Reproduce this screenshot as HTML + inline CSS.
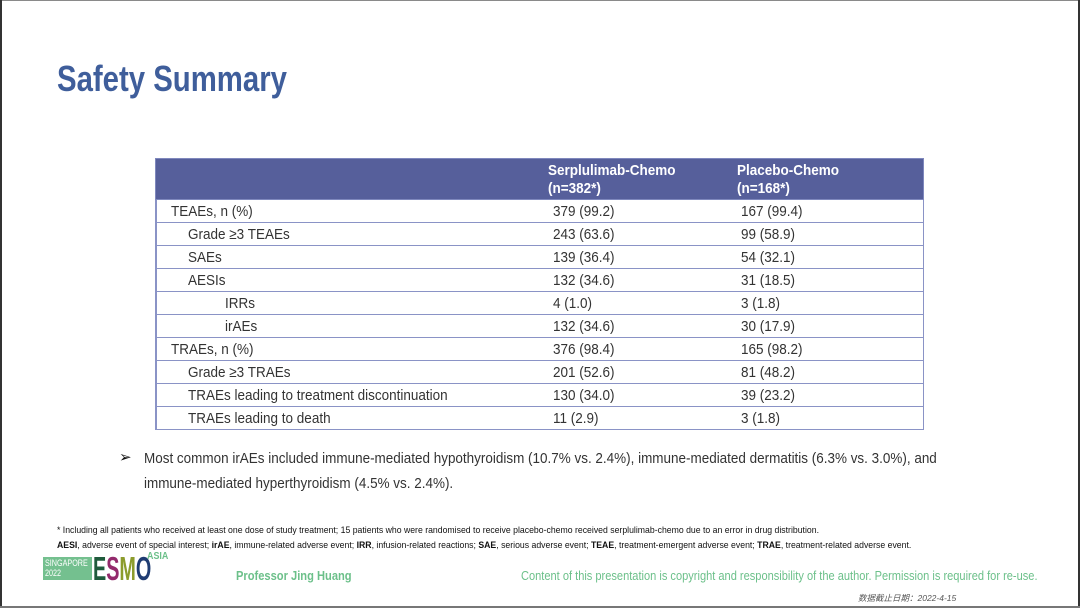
<!DOCTYPE html>
<html><head><meta charset="utf-8">
<style>
*{margin:0;padding:0;box-sizing:border-box}
html,body{width:1080px;height:608px;overflow:hidden;background:#fff}
body{position:relative;font-family:"Liberation Sans",Arial,"Noto Sans CJK SC",sans-serif;color:#333}
.a{position:absolute;white-space:nowrap}
.c{display:inline-block;transform-origin:0 0;white-space:nowrap}
.row{position:absolute;left:155px;width:769px;height:23px;border-bottom:1.5px solid #8a93c6}
.row .t{position:absolute;top:0;line-height:23px;font-size:15px;color:#333}
.row .t span{transform:scaleX(.9)}
</style></head><body>
<!-- frame -->
<div class="a" style="left:0;top:0;width:1080px;height:1px;background:#8a8a8a"></div>
<div class="a" style="left:0;top:0;width:2px;height:608px;background:#333"></div>
<div class="a" style="right:0;top:0;width:2px;height:608px;background:#333"></div>
<div class="a" style="left:0;bottom:0;width:1080px;height:2px;background:#777"></div>

<!-- title -->
<div class="a" style="left:57px;top:61px;font-size:36px;line-height:36px;font-weight:bold;color:#3f5e9b"><span class="c" style="transform:scaleX(.815)">Safety Summary</span></div>

<!-- table header -->
<div class="a" style="left:155px;top:158px;width:769px;height:42px;background:#565f9b;border:1px solid #7f88bd"></div>
<div class="a" style="left:548px;top:162px;font-size:15px;line-height:18px;font-weight:bold;color:#fff"><span class="c" style="transform:scaleX(.9)">Serplulimab-Chemo<br>(n=382*)</span></div>
<div class="a" style="left:737px;top:162px;font-size:15px;line-height:18px;font-weight:bold;color:#fff"><span class="c" style="transform:scaleX(.9)">Placebo-Chemo<br>(n=168*)</span></div>

<!-- table body borders -->
<div class="a" style="left:155px;top:200px;width:1.5px;height:230px;background:#8a93c6"></div>
<div class="a" style="left:922.5px;top:200px;width:1.5px;height:230px;background:#8a93c6"></div>

<div class="row" style="top:200px"><div class="t" style="left:16px"><span class="c">TEAEs, n (%)</span></div><div class="t" style="left:398px"><span class="c">379 (99.2)</span></div><div class="t" style="left:586px"><span class="c">167 (99.4)</span></div></div>
<div class="row" style="top:223px"><div class="t" style="left:33px"><span class="c">Grade ≥3 TEAEs</span></div><div class="t" style="left:398px"><span class="c">243 (63.6)</span></div><div class="t" style="left:586px"><span class="c">99 (58.9)</span></div></div>
<div class="row" style="top:246px"><div class="t" style="left:33px"><span class="c">SAEs</span></div><div class="t" style="left:398px"><span class="c">139 (36.4)</span></div><div class="t" style="left:586px"><span class="c">54 (32.1)</span></div></div>
<div class="row" style="top:269px"><div class="t" style="left:33px"><span class="c">AESIs</span></div><div class="t" style="left:398px"><span class="c">132 (34.6)</span></div><div class="t" style="left:586px"><span class="c">31 (18.5)</span></div></div>
<div class="row" style="top:292px"><div class="t" style="left:70px"><span class="c">IRRs</span></div><div class="t" style="left:398px"><span class="c">4 (1.0)</span></div><div class="t" style="left:586px"><span class="c">3 (1.8)</span></div></div>
<div class="row" style="top:315px"><div class="t" style="left:70px"><span class="c">irAEs</span></div><div class="t" style="left:398px"><span class="c">132 (34.6)</span></div><div class="t" style="left:586px"><span class="c">30 (17.9)</span></div></div>
<div class="row" style="top:338px"><div class="t" style="left:16px"><span class="c">TRAEs, n (%)</span></div><div class="t" style="left:398px"><span class="c">376 (98.4)</span></div><div class="t" style="left:586px"><span class="c">165 (98.2)</span></div></div>
<div class="row" style="top:361px"><div class="t" style="left:33px"><span class="c">Grade ≥3 TRAEs</span></div><div class="t" style="left:398px"><span class="c">201 (52.6)</span></div><div class="t" style="left:586px"><span class="c">81 (48.2)</span></div></div>
<div class="row" style="top:384px"><div class="t" style="left:33px"><span class="c">TRAEs leading to treatment discontinuation</span></div><div class="t" style="left:398px"><span class="c">130 (34.0)</span></div><div class="t" style="left:586px"><span class="c">39 (23.2)</span></div></div>
<div class="row" style="top:407px"><div class="t" style="left:33px"><span class="c">TRAEs leading to death</span></div><div class="t" style="left:398px"><span class="c">11 (2.9)</span></div><div class="t" style="left:586px"><span class="c">3 (1.8)</span></div></div>

<!-- bullet -->
<div class="a" style="left:119px;top:448px;font-size:15px;line-height:20px;color:#111">➢</div>
<div class="a" style="left:144px;top:446px;font-size:15px;line-height:25px;color:#333"><span class="c" style="transform:scaleX(.898)">Most common irAEs included immune-mediated hypothyroidism (10.7% vs. 2.4%), immune-mediated dermatitis (6.3% vs. 3.0%), and<br>immune-mediated hyperthyroidism (4.5% vs. 2.4%).</span></div>

<!-- footnotes -->
<div class="a" style="left:57px;top:523px;font-size:9.5px;line-height:15px;color:#111"><span class="c" style="transform:scaleX(.915)">* Including all patients who received at least one dose of study treatment; 15 patients who were randomised to receive placebo-chemo received serplulimab-chemo due to an error in drug distribution.<br><b>AESI</b>, adverse event of special interest; <b>irAE</b>, immune-related adverse event; <b>IRR</b>, infusion-related reactions; <b>SAE</b>, serious adverse event; <b>TEAE</b>, treatment-emergent adverse event; <b>TRAE</b>, treatment-related adverse event.</span></div>

<!-- logo -->
<div class="a" style="left:43px;top:557px;width:49px;height:23px;background:#74c08f"></div>
<div class="a" style="left:45px;top:558px;font-size:9px;line-height:10px;color:#fff"><span class="c" style="transform:scaleX(.8)">SINGAPORE<br>2022</span></div>
<div class="a" style="left:93px;top:552px;font-size:33px;line-height:33px;font-weight:bold;letter-spacing:0"><span class="c" style="transform:scaleX(.6)"><span style="color:#1f5b3c">E</span><span style="color:#932a6c">S</span><span style="color:#8c9c2c">M</span><span style="color:#1f3c72">O</span></span></div>
<div class="a" style="left:147px;top:551px;font-size:10.5px;line-height:10px;font-weight:bold;color:#6cc08a"><span class="c" style="transform:scaleX(.85)">ASIA</span></div>

<div class="a" style="left:236px;top:568px;font-size:12.5px;line-height:16px;font-weight:bold;color:#6cc08a"><span class="c" style="transform:scaleX(.89)">Professor Jing Huang</span></div>
<div class="a" style="left:521px;top:568px;font-size:12.5px;line-height:16px;color:#6cc08a"><span class="c" style="transform:scaleX(.885)">Content of this presentation is copyright and responsibility of the author. Permission is required for re-use.</span></div>
<div class="a" style="left:858px;top:592px;font-size:8.5px;line-height:12px;font-style:italic;color:#555;font-family:'Liberation Sans','Noto Sans CJK SC',sans-serif">数据截止日期：2022-4-15</div>
</body></html>
